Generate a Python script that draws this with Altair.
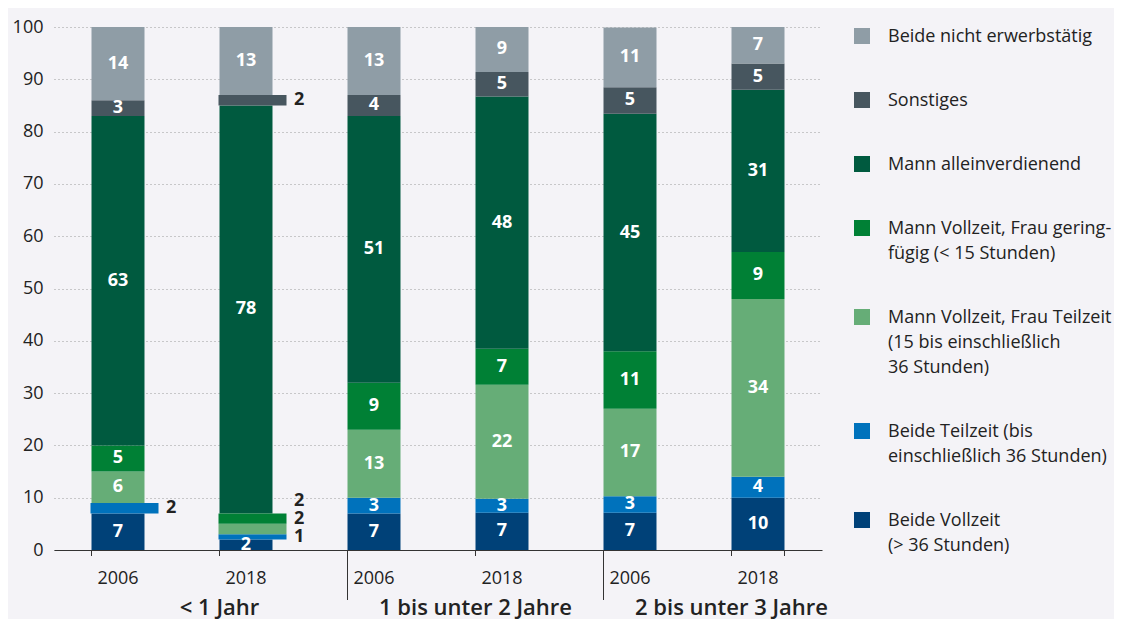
import altair as alt
import pandas as pd

# ---------------- data ----------------
groups = ["< 1 Jahr", "1 bis unter 2 Jahre", "2 bis unter 3 Jahre"]
years = ["2006", "2018"]

# stacking order, bottom to top
categories = [
    "Beide Vollzeit",
    "Beide Teilzeit",
    "Mann Vollzeit, Frau Teilzeit",
    "Mann Vollzeit, Frau geringfügig",
    "Mann alleinverdienend",
    "Sonstiges",
    "Beide nicht erwerbstätig",
]
legend_text = {
    "Beide nicht erwerbstätig": "Beide nicht erwerbstätig",
    "Sonstiges": "Sonstiges",
    "Mann alleinverdienend": "Mann alleinverdienend",
    "Mann Vollzeit, Frau geringfügig": "Mann Vollzeit, Frau gering-|fügig (< 15 Stunden)",
    "Mann Vollzeit, Frau Teilzeit": "Mann Vollzeit, Frau Teilzeit|(15 bis einschließlich| 36 Stunden)",
    "Beide Teilzeit": "Beide Teilzeit (bis|einschließlich 36 Stunden)",
    "Beide Vollzeit": "Beide Vollzeit|(> 36 Stunden)",
}
colors = {
    "Beide Vollzeit": "#004178",
    "Beide Teilzeit": "#0072bc",
    "Mann Vollzeit, Frau Teilzeit": "#66ad77",
    "Mann Vollzeit, Frau geringfügig": "#008035",
    "Mann alleinverdienend": "#005a3f",
    "Sonstiges": "#47565f",
    "Beide nicht erwerbstätig": "#8f9da6",
}

# shares in percent, one value per bar (< 1 J. 2006, 2018; 1-2 J. 2006, 2018; 2-3 J. 2006, 2018)
beide_vollzeit = [7, 2, 7, 7.1, 7.1, 10]
beide_teilzeit = [2, 1, 3, 2.7, 3.2, 4]
mann_vz_frau_tz = [6, 2, 13, 21.8, 16.7, 34]
mann_vz_frau_gf = [5, 2, 9, 6.9, 11.0, 9]
mann_allein = [63, 78, 51, 48.2, 45.4, 31]
sonstiges = [3, 2, 4, 4.7, 5.1, 5]
nicht_erwerbstaetig = [14, 13, 13, 8.6, 11.4, 7]

series = [beide_vollzeit, beide_teilzeit, mann_vz_frau_tz, mann_vz_frau_gf,
          mann_allein, sonstiges, nicht_erwerbstaetig]

# small segments drawn as wider callout bars with label outside: (bar index, category)
callouts = [
    (0, "Beide Teilzeit"),
    (1, "Beide Teilzeit"),
    (1, "Mann Vollzeit, Frau Teilzeit"),
    (1, "Mann Vollzeit, Frau geringfügig"),
    (1, "Sonstiges"),
]
# vertical nudge of callout labels (in percentage points) to avoid overlaps
label_nudge = {
    (1, "Mann Vollzeit, Frau Teilzeit"): 1.9,
    (1, "Mann Vollzeit, Frau geringfügig"): 3.3,
}

# ---------------- table ----------------
keys = [f"{g}|{y}" for g in groups for y in years]
rows = []
for b, key in enumerate(keys):
    base = 0.0
    for cat, vals in zip(categories, series):
        v = vals[b]
        rows.append({
            "key": key, "cat": cat, "v": v,
            "y0": base, "y1": base + v,
            "mid": base + v / 2 + label_nudge.get((b, cat), 0),
            "callout": (b, cat) in callouts,
        })
        base += v
df = pd.DataFrame(rows)

legend_order = list(reversed(categories))
legend_map = "{" + ",".join(f"'{k}': '{v}'" for k, v in legend_text.items()) + "}"

W, H = 768, 523
FONT = "Open Sans"
TXT = "#222222"
DY = -8  # shared vertical shift of guide labels (aligns multi-line legend labels with symbols)

xsort = keys
x_main = alt.X(
    "key:N", sort=xsort,
    scale=alt.Scale(paddingInner=0.586, paddingOuter=0.293),
    axis=alt.Axis(title=None, labelExpr="split(datum.label, '|')[1]", ticks=False,
                  domainColor="#333333", labelFontSize=18, labelPadding=19 - DY,
                  labelAngle=0, labelColor=TXT, labelFont=FONT),
)
y_main = alt.Y(
    "y0:Q", scale=alt.Scale(domain=[0, 100], nice=False),
    axis=alt.Axis(title=None, values=list(range(0, 101, 10)), domain=False, ticks=False,
                  gridDash=[1, 3], gridColor="#9a9a9a", gridWidth=1, labelOffset=-DY,
                  labelFontSize=18, labelPadding=11, labelColor=TXT, labelFont=FONT),
)
color = alt.Color(
    "cat:N",
    scale=alt.Scale(domain=legend_order, range=[colors[c] for c in legend_order]),
    legend=alt.Legend(
        title=None, orient="right", offset=31, symbolType="square", symbolSize=256,
        symbolStrokeWidth=0, labelFontSize=18, labelFont=FONT, labelColor=TXT,
        labelOffset=17, labelLimit=400, rowPadding=45, labelBaseline="top",
        labelExpr="split(" + legend_map + "[datum.label], '|')",
    ),
)

base = alt.Chart(df)

bars = base.transform_filter("!datum.callout").mark_bar().encode(
    x=x_main, y=y_main, y2="y1:Q", color=color
)
wide = base.transform_filter("datum.callout").mark_bar(width=68, xOffset=6.5).encode(
    x=alt.X("key:N", sort=xsort), y="y0:Q", y2="y1:Q", color=alt.Color("cat:N")
)
lab_in = base.transform_filter("!datum.callout").mark_text(
    color="white", fontWeight="bold", fontSize=18, font=FONT
).encode(
    x=alt.X("key:N", sort=xsort), y="mid:Q", text=alt.Text("v:Q", format=".0f")
)
lab_out = base.transform_filter("datum.callout").mark_text(
    color=TXT, fontWeight="bold", fontSize=18, font=FONT, align="left", dx=48
).encode(
    x=alt.X("key:N", sort=xsort), y="mid:Q", text=alt.Text("v:Q", format=".0f")
)

tick_df = pd.DataFrame({"key": keys, "idx": list(range(len(keys)))})
tbase = alt.Chart(tick_df)
short_ticks = tbase.transform_filter("datum.idx % 2 == 1 || datum.idx == 0").mark_rule(
    color="#333333"
).encode(x=alt.X("key:N", sort=xsort, bandPosition=0), y=alt.value(H), y2=alt.value(H + 6))
end_tick = tbase.transform_filter(f"datum.idx == {len(keys) - 1}").mark_rule(
    color="#333333"
).encode(x=alt.X("key:N", sort=xsort, bandPosition=1), y=alt.value(H), y2=alt.value(H + 6))
seps = tbase.transform_filter("datum.idx % 2 == 0 && datum.idx > 0").mark_rule(
    color="#333333"
).encode(x=alt.X("key:N", sort=xsort, bandPosition=0), y=alt.value(H), y2=alt.value(H + 50))
group_lab = tbase.transform_filter("datum.idx % 2 == 1").transform_calculate(
    g="split(datum.key, '|')[0]"
).mark_text(fontSize=22, fontWeight=600, font=FONT, color=TXT).encode(
    x=alt.X("key:N", sort=xsort, bandPosition=0), y=alt.value(H + 58), text="g:N"
)

chart = alt.layer(bars, wide, lab_in, lab_out, short_ticks, end_tick, seps, group_lab).properties(
    width=W, height=H, background="#f4f3f7",
    padding={"left": 4, "top": 10, "right": 2, "bottom": 0},
).configure(style={"guide-label": {"lineHeight": 25, "dy": DY}}).configure_view(strokeWidth=0)

chart.save("out.html", embed_options={"renderer": "svg", "actions": False})
